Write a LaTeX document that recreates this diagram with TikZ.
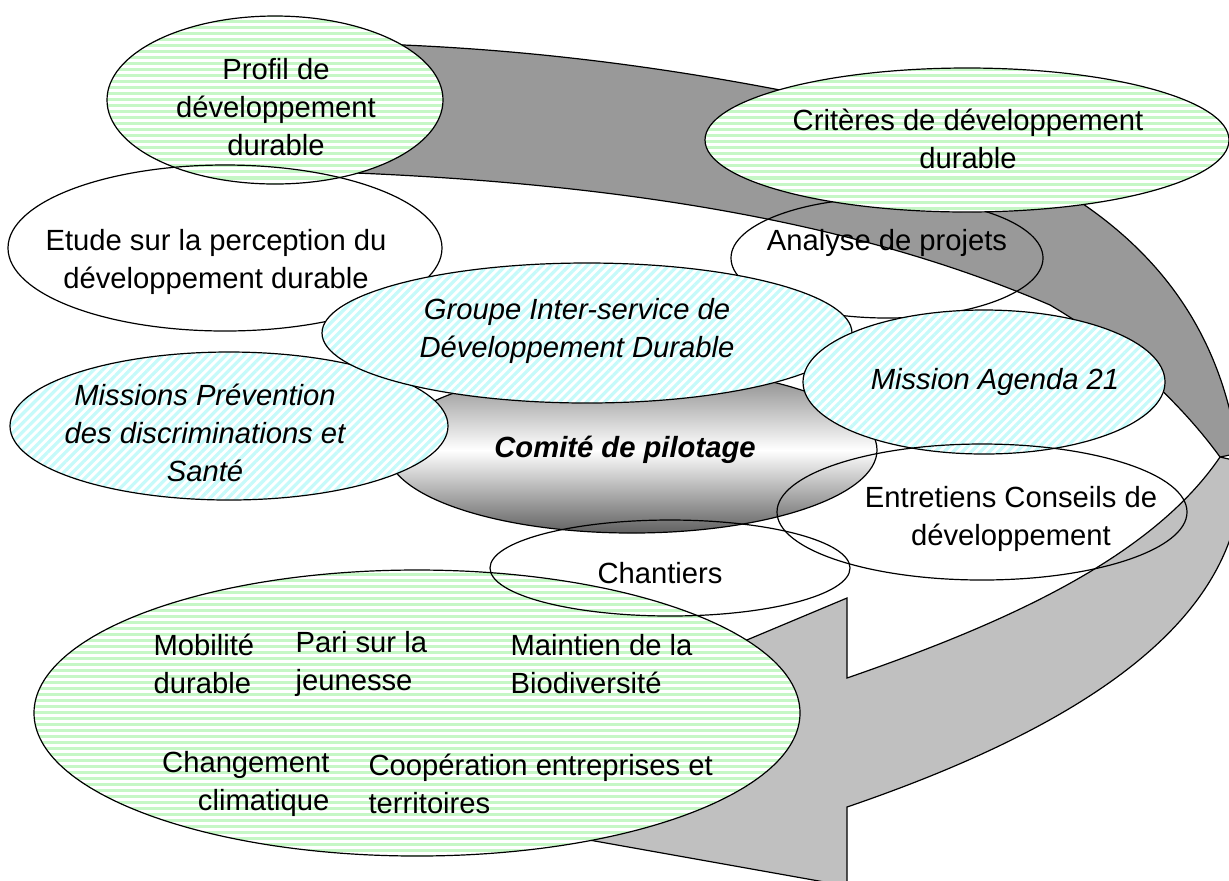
\documentclass[tikz,border=0pt]{standalone}
\usepackage{fontspec}
\setmainfont{Liberation Sans}
\usetikzlibrary{shapes.geometric,patterns.meta}
\definecolor{stripegreen}{HTML}{C6F7C6}
\definecolor{stripecyan}{HTML}{C6FAFA}
\definecolor{darkband}{HTML}{999999}
\definecolor{lightband}{HTML}{C0C0C0}
\begin{document}
\begin{tikzpicture}[x=0.5pt,y=-0.5pt, line width=0.6pt,
  ell/.style={ellipse, draw, inner sep=0pt, outer sep=0pt},
  greenfill/.style={preaction={fill=white}, preaction={pattern={Lines[angle=0,distance=3pt,line width=1.5pt]}, pattern color=stripegreen}},
  cyanfill/.style={preaction={fill=white}, preaction={pattern={Lines[angle=45,distance=3.2pt,line width=1.6pt]}, pattern color=stripecyan}},
  txt/.style={inner sep=0pt, font=\fontsize{14.6}{19}\selectfont, align=center},
  itxt/.style={txt, font=\fontsize{14.6}{19}\selectfont\itshape},
  btxt/.style={txt, font=\fontsize{14.6}{19}\selectfont\bfseries\itshape},
]
\useasboundingbox (0,0) rectangle (1229,880);
\clip (0,0) rectangle (1229,880);

% curved arrow: back (dark) part
\draw[fill=darkband, line join=round]
  (330,43) .. controls (500,45) and (650,65) .. (780,90)
  .. controls (1020,140) and (1200,230) .. (1236,440)
  -- (1245,452) -- (1220,457)
  .. controls (1175,395) and (1110,340) .. (1050,305)
  .. controls (910,245) and (700,185) .. (330,172)
  -- cycle;
% curved arrow: front (light) part with head
\draw[fill=lightband, line join=miter]
  (1220,457) -- (1242,462)
  .. controls (1245,580) and (1160,700) .. (847,807)
  -- (847,886) -- (365,800) -- (847,598) -- (847,678)
  .. controls (1000,625) and (1150,560) .. (1220,457)
  -- cycle;

% ellipses
\node[ell, minimum width=245pt, minimum height=83pt, top color=black!50, bottom color=black!62, middle color=white] (comite) at (632,450) {};
\node[ell, minimum width=156pt, minimum height=60pt] (analyse) at (887,258) {};
\node[ell, greenfill, minimum width=168pt, minimum height=84pt] (profil) at (275,100) {};
\node[ell, greenfill, minimum width=262pt, minimum height=72pt] (criteres) at (967,140) {};
\node[ell, minimum width=217pt, minimum height=83pt] (etude) at (225,248) {};
\node[ell, cyanfill, minimum width=219pt, minimum height=74pt] (missions) at (229,426) {};
\node[ell, cyanfill, minimum width=265pt, minimum height=70pt] (groupe) at (587,333) {};
\node[ell, cyanfill, minimum width=181pt, minimum height=72pt] (agenda) at (984,382) {};
\node[ell, minimum width=205pt, minimum height=68pt] (entretiens) at (982,512) {};
\node[ell, greenfill, minimum width=383pt, minimum height=143pt] (chantiersbig) at (417,713) {};
\node[ell, minimum width=180pt, minimum height=48pt] (chantiers) at (670,568) {};

% texts
\node[txt] (t-profil) at (276,107) {Profil de\\développement\\durable};
\node[txt] (t-criteres) at (968,139) {Critères de développement\\durable};
\node[txt] (t-etude) at (216,262) {Etude sur la perception du\\développement durable};
\node[txt] (t-analyse) at (887,243) {Analyse de projets};
\node[itxt] (t-groupe) at (577,331) {Groupe Inter-service de\\Développement Durable};
\node[itxt] (t-agenda) at (995,382) {Mission Agenda 21};
\node[itxt] (t-missions) at (205,433) {Missions Prévention\\des discriminations et\\Santé};
\node[btxt] (t-comite) at (625,450) {Comité de pilotage};
\node[txt] (t-entretiens) at (1011,519) {Entretiens Conseils de\\développement};
\node[txt] (t-chantiers) at (660,573) {Chantiers};
\node[txt, align=left, anchor=west] (t-mob) at (153,664) {Mobilité\\durable};
\node[txt, align=left, anchor=west] (t-pari) at (295,664) {Pari sur la\\jeunesse};
\node[txt, align=left, anchor=west] (t-bio) at (510,664) {Maintien de la\\Biodiversité};
\node[txt, align=right, anchor=east] (t-clim) at (330,784) {Changement\\climatique};
\node[txt, align=left, anchor=west] (t-coop) at (368,784) {Coopération entreprises et\\territoires};
\end{tikzpicture}
\end{document}
